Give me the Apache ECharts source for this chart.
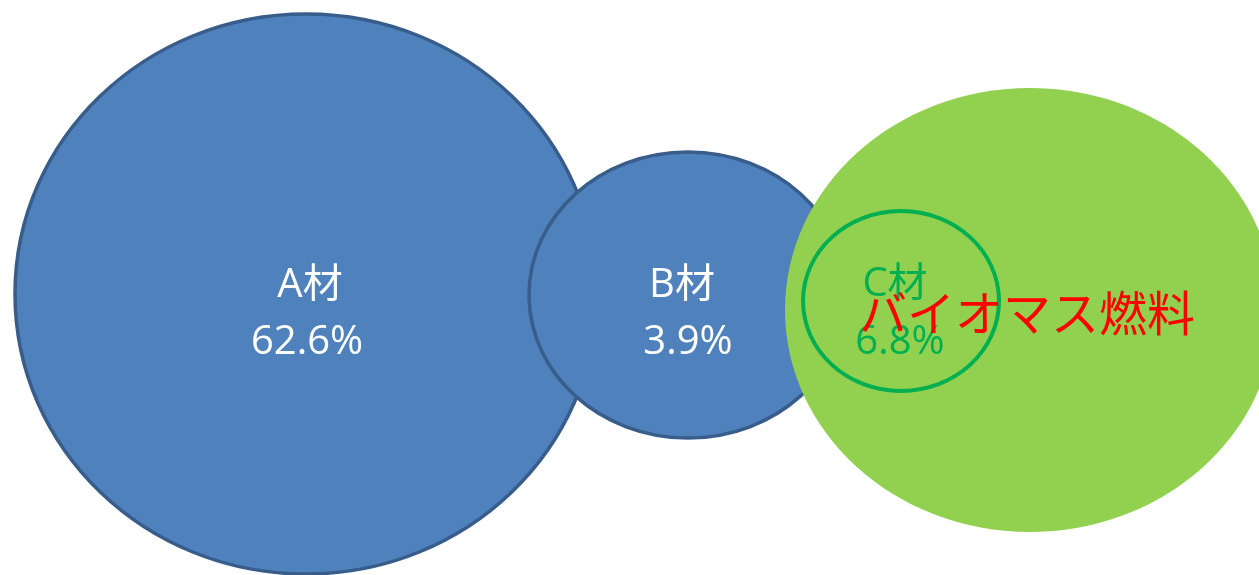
<!DOCTYPE html>
<html>
<head>
<meta charset="utf-8">
<style>
  html, body { margin: 0; padding: 0; background: #ffffff; }
  #chart { width: 1259px; height: 575px; }
</style>
<script src="https://cdn.jsdelivr.net/npm/echarts@6/dist/echarts.min.js"></script>
</head>
<body>
<div id="chart"></div>
<script>
// Wood material categories and their shares (%)
const categories = ['A材', 'B材', 'C材'];
const shares = [62.6, 3.9, 6.8];
const fuelLabel = 'バイオマス燃料';

// Diagram layout in plot units: centre x, centre y, radius x, radius y
const layoutA = [306, 294, 291, 280];
const layoutB = [688, 295, 159, 143];
const layoutC = [901, 301, 98, 90];
const layoutFuel = [1030, 310, 245, 222];

const LATIN_FONT = '"Open Sans", "Noto Sans CJK JP", sans-serif';
const CJK_FONT = '"Noto Sans CJK JP", "Noto Sans", sans-serif';

const chart = echarts.init(document.getElementById('chart'), null, { renderer: 'canvas' });

function ellipseEl(api, l, style) {
  const c = api.coord([l[0], l[1]]);
  const s = api.size([l[2], l[3]]);
  return { type: 'ellipse', shape: { cx: c[0], cy: c[1], rx: s[0], ry: s[1] }, style: style };
}

function labelEls(api, l, name, share, color, dx1, dy1, dx2, dy2) {
  const c = api.coord([l[0], l[1]]);
  return [
    { type: 'text', x: c[0] + dx1, y: c[1] + dy1,
      style: { text: name, fill: color, font: '40px ' + LATIN_FONT, align: 'center', verticalAlign: 'middle' } },
    { type: 'text', x: c[0] + dx2, y: c[1] + dy2,
      style: { text: share.toFixed(1) + '%', fill: color, font: '40px ' + LATIN_FONT, align: 'center', verticalAlign: 'middle' } }
  ];
}

const blueFill = { fill: '#4F81BD', stroke: '#385D8A', lineWidth: 3.5 };

chart.setOption({
  animation: false,
  grid: { left: 0, right: 0, top: 0, bottom: 0 },
  xAxis: { type: 'value', min: 0, max: 1259, show: false },
  yAxis: { type: 'value', min: 0, max: 575, inverse: true, show: false },
  series: [{
    type: 'custom',
    coordinateSystem: 'cartesian2d',
    clip: false,
    data: [[0, 0]],
    renderItem: function (params, api) {
      const children = [
        ellipseEl(api, layoutA, blueFill),
        ellipseEl(api, layoutB, blueFill),
        ellipseEl(api, layoutFuel, { fill: '#92D050' }),
        ellipseEl(api, layoutC, { fill: 'none', stroke: '#00B050', lineWidth: 4 })
      ];
      children.push.apply(children, labelEls(api, layoutA, categories[0], shares[0], '#ffffff', 4, -8, 1, 49));
      children.push.apply(children, labelEls(api, layoutB, categories[1], shares[1], '#ffffff', -6, -9, 0, 48));
      children.push.apply(children, labelEls(api, layoutC, categories[2], shares[2], '#00B050', -6, -16, -1, 42));
      const f = api.coord([layoutFuel[0], layoutFuel[1]]);
      children.push({ type: 'text', x: f[0] - 3, y: f[1] + 3,
        style: { text: fuelLabel, fill: '#FF0000', font: '48px ' + CJK_FONT, align: 'center', verticalAlign: 'middle' } });
      return { type: 'group', children: children };
    }
  }]
});
</script>
</body>
</html>
